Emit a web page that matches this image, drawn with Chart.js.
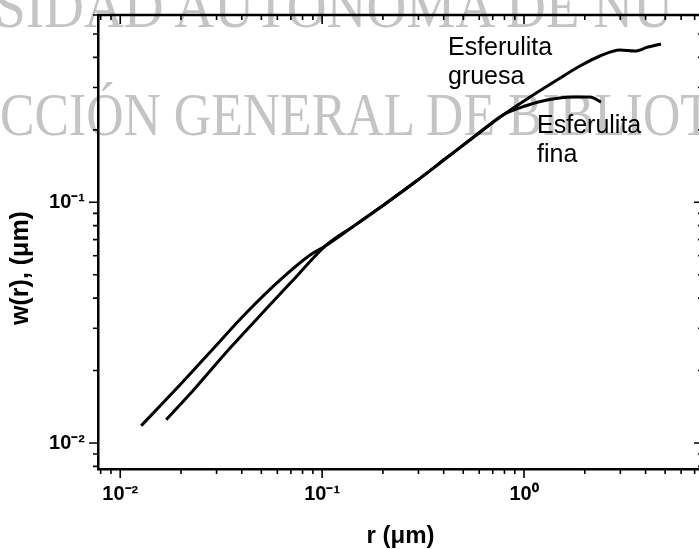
<!DOCTYPE html>
<html>
<head>
<meta charset="utf-8">
<script src="https://cdn.jsdelivr.net/npm/chart.js@4.4.1/dist/chart.umd.min.js"></script>
<style>
  html, body { margin: 0; padding: 0; background: #fff; overflow: hidden; }
  #wrap { position: relative; width: 699px; height: 549px; overflow: hidden; }
  .wm { position: absolute; font-family: "Liberation Serif", serif; font-size: 62px; line-height: 1;
        color: #c4c4c4; white-space: nowrap; transform-origin: 0 0; }
  #wm1 { left: -5px; top: -25px; transform: scaleX(0.89); }
  #wm2 { left: 0px; top: 83px; transform: scaleX(0.834); }
  canvas { position: absolute; left: 0; top: 0; }
</style>
</head>
<body>
<div id="wrap">
  <div class="wm" id="wm1">SIDAD AUTONOMA DE NU</div>
  <div class="wm" id="wm2">CCIÓN GENERAL DE BIBLIOT</div>
  <canvas id="chart" width="720" height="549"></canvas>
</div>
<script>
// r (um) and w(r) (um)
const finaR = [0.0127, 0.0187, 0.0279, 0.0425, 0.0620, 0.0872, 0.1035, 0.1457, 0.2050, 0.2886, 0.4064, 0.5720, 0.7870, 1.012, 1.300, 1.748, 2.122, 2.406];
const finaW = [0.0118, 0.0166, 0.0239, 0.0350, 0.0476, 0.0604, 0.0658, 0.0804, 0.0984, 0.1214, 0.1513, 0.1886, 0.2306, 0.2513, 0.2661, 0.2739, 0.2739, 0.2610];

const gruesaR = [0.0169, 0.0235, 0.0350, 0.0522, 0.0735, 0.1035, 0.1457, 0.2050, 0.2886, 0.4064, 0.5720, 0.7870, 1.071, 1.457, 1.893, 2.378, 2.987, 3.544, 4.111, 4.767];
const gruesaW = [0.0125, 0.0169, 0.0248, 0.0357, 0.0485, 0.0658, 0.0804, 0.0984, 0.1214, 0.1513, 0.1886, 0.2306, 0.2739, 0.3222, 0.3684, 0.4054, 0.4292, 0.4251, 0.4416, 0.4545];

// axis ticks
const xTickValues = [0.01, 0.1, 1];
const xTickLabels = ['10\u207B\u00B2', '10\u207B\u00B9', '10\u2070'];
const yTickValues = [0.01, 0.1];
const yTickLabels = ['10\u207B\u00B2', '10\u207B\u00B9'];

// curve labels: [text lines, r, w] (left / baseline anchor)
const curveLabels = [
    [['Esferulita', 'gruesa'], 0.42, 0.409],
    [['Esferulita', 'fina'], 1.16, 0.194]
];

const xRange = [0.00776, 7.7];
const yRange = [0.0078, 0.600];

const minorTicks = (lo, hi) => {
    const out = [];
    for (let e = -4; e <= 2; e++) {
        for (let k = 1; k <= 9; k++) {
            const v = k * Math.pow(10, e);
            if (v >= lo * 0.999 && v <= hi * 1.001) out.push({ value: v });
        }
    }
    return out;
};
const isMajor = v => Math.abs(Math.log10(v) - Math.round(Math.log10(v))) < 1e-6;
const labelFor = (vals, labs, v) => {
    const i = vals.findIndex(t => Math.abs(t - v) / t < 1e-6);
    return i >= 0 ? labs[i] : '';
};

const toPoints = (rs, ws) => rs.map((r, i) => ({ x: r, y: ws[i] }));

const framePlugin = {
    id: 'frame',
    afterDraw(chart) {
        const { ctx, chartArea: a, scales: { x, y } } = chart;
        ctx.save();
        ctx.strokeStyle = '#000';
        ctx.lineWidth = 2.5;
        ctx.beginPath();
        ctx.moveTo(a.left - 1, a.top);
        ctx.lineTo(a.right, a.top);
        ctx.lineTo(a.right, a.bottom);
        ctx.stroke();

        ctx.lineWidth = 1.6;
        x.ticks.forEach(t => {
            const px = x.getPixelForValue(t.value);
            const len = isMajor(t.value) ? 9 : 5;
            ctx.beginPath();
            ctx.moveTo(px, a.bottom); ctx.lineTo(px, a.bottom + len);
            ctx.moveTo(px, a.top); ctx.lineTo(px, a.top + len);
            ctx.stroke();
        });
        y.ticks.forEach(t => {
            const py = y.getPixelForValue(t.value);
            const len = isMajor(t.value) ? 9 : 5;
            ctx.beginPath();
            ctx.moveTo(a.left, py); ctx.lineTo(a.left - len, py);
            ctx.moveTo(a.right, py); ctx.lineTo(a.right - len, py);
            ctx.stroke();
        });

        // y axis title
        ctx.fillStyle = '#000';
        ctx.font = 'bold 25px "Liberation Sans", Arial, sans-serif';
        ctx.textAlign = 'center';
        ctx.textBaseline = 'middle';
        ctx.save();
        ctx.translate(21, 268);
        ctx.rotate(-Math.PI / 2);
        ctx.fillText('w(r), (\u03BCm)', 0, 0);
        ctx.restore();

        // curve labels
        ctx.font = '25px "Liberation Sans", Arial, sans-serif';
        ctx.textAlign = 'left';
        ctx.textBaseline = 'alphabetic';
        curveLabels.forEach(([lines, r, w]) => {
            const px = x.getPixelForValue(r);
            const py = y.getPixelForValue(w);
            lines.forEach((s, i) => ctx.fillText(s, px, py + i * 29));
        });
        ctx.restore();
    }
};

const lineStyle = {
    showLine: true,
    borderColor: '#000',
    backgroundColor: '#000',
    borderWidth: 3,
    pointRadius: 0,
    cubicInterpolationMode: 'monotone',
    fill: false
};

new Chart(document.getElementById('chart'), {
    type: 'scatter',
    data: {
        datasets: [
            { label: 'Esferulita fina', data: toPoints(finaR, finaW), ...lineStyle },
            { label: 'Esferulita gruesa', data: toPoints(gruesaR, gruesaW), ...lineStyle }
        ]
    },
    options: {
        responsive: false,
        animation: false,
        layout: { padding: { top: 15, right: 17, left: 0, bottom: 0 } },
        plugins: {
            legend: { display: false },
            tooltip: { enabled: false }
        },
        scales: {
            x: {
                type: 'logarithmic',
                min: xRange[0],
                max: xRange[1],
                afterBuildTicks: s => { s.ticks = minorTicks(xRange[0], xRange[1]); },
                afterFit: s => { s.height = 80; s.paddingLeft = 0; s.paddingRight = 0; },
                grid: { display: false, drawTicks: false },
                border: { display: true, color: '#000', width: 2.5 },
                ticks: {
                    autoSkip: false,
                    maxRotation: 0,
                    padding: 13,
                    color: '#000',
                    font: { family: '"Liberation Sans", Arial, sans-serif', size: 20, weight: 'bold' },
                    callback: v => labelFor(xTickValues, xTickLabels, v)
                },
                title: {
                    display: true,
                    text: 'r (\u03BCm)',
                    color: '#000',
                    padding: { top: 0, bottom: -2 },
                    font: { family: '"Liberation Sans", Arial, sans-serif', size: 24, weight: 'bold' }
                }
            },
            y: {
                type: 'logarithmic',
                min: yRange[0],
                max: yRange[1],
                afterBuildTicks: s => { s.ticks = minorTicks(yRange[0], yRange[1]); },
                afterFit: s => { s.width = 98; s.paddingTop = 0; s.paddingBottom = 0; },
                grid: { display: false, drawTicks: false },
                border: { display: true, color: '#000', width: 2.5 },
                ticks: {
                    autoSkip: false,
                    padding: 13,
                    color: '#000',
                    font: { family: '"Liberation Sans", Arial, sans-serif', size: 20, weight: 'bold' },
                    callback: v => labelFor(yTickValues, yTickLabels, v)
                }
            }
        }
    },
    plugins: [framePlugin]
});
</script>
</body>
</html>
